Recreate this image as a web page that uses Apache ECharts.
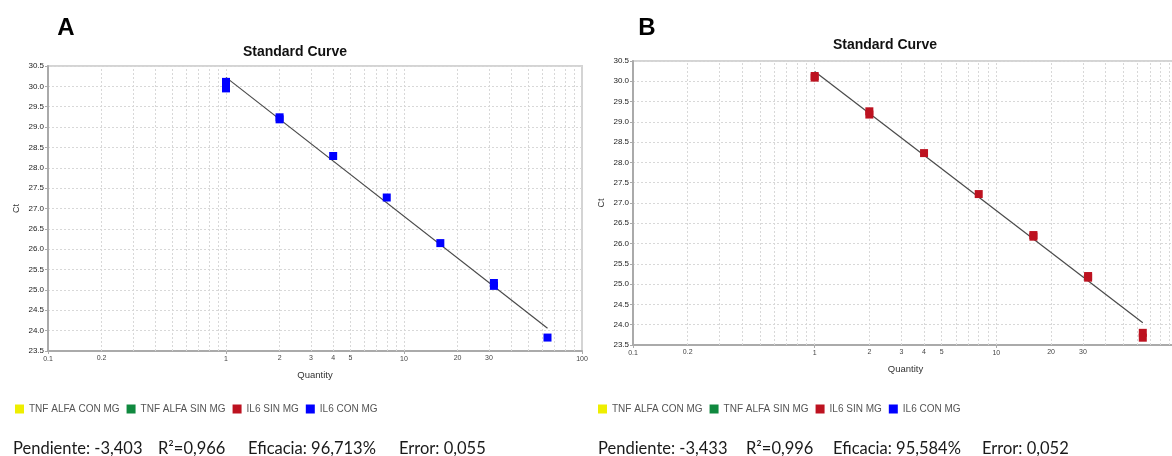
<!DOCTYPE html>
<html>
<head>
<meta charset="utf-8">
<script src="https://cdn.jsdelivr.net/npm/echarts@6/dist/echarts.min.js"></script>
<style>
html,body{margin:0;padding:0;background:#fff;}
#chart{width:1172px;height:456px;}
</style>
</head>
<body>
<div id="chart"></div>
<script>
// ---- data ----
const legendNames = ['TNF ALFA CON MG', 'TNF ALFA SIN MG', 'IL6 SIN MG', 'IL6 CON MG'];
// Panel A: IL6 CON MG
const qtyA = [1, 1, 2, 2, 4, 8, 16, 32, 32, 64];
const ctA  = [30.11, 29.95, 29.24, 29.19, 28.29, 27.27, 26.15, 25.17, 25.10, 23.83];
const fitQtyA = [1, 64];
const fitCtA  = [30.22, 24.06];
// Panel B: IL6 SIN MG
const qtyB = [1, 1, 2, 2, 4, 8, 16, 16, 32, 32, 64, 64];
const ctB  = [30.13, 30.09, 29.26, 29.18, 28.23, 27.22, 26.21, 26.17, 25.20, 25.16, 23.80, 23.68];
const fitQtyB = [1, 64];
const fitCtB  = [30.24, 24.05];
// axis ticks
const yTicksMin = 23.5, yTicksMax = 30.5, yTickStep = 0.5;
const xMin = 0.1, xMax = 100;
const gridQty = [0.2,0.3,0.4,0.5,0.6,0.7,0.8,0.9,1,2,3,4,5,6,7,8,9,10,20,30,40,50,60,70,80,90];
const xExtraLabels = [0.2, 2, 3, 4, 5, 20, 30];
const statsA = ['Pendiente: -3,403', 'R\u00B2=0,966', 'Eficacia: 96,713%', 'Error: 0,055'];
const statsB = ['Pendiente: -3,433', 'R\u00B2=0,996', 'Eficacia: 95,584%', 'Error: 0,052'];

// ---- styles / layout ----
const colors = {'TNF ALFA CON MG':'#eeee00','TNF ALFA SIN MG':'#10893f','IL6 SIN MG':'#bd1220','IL6 CON MG':'#0000ff'};
const F = 'Liberation Sans, Arial, sans-serif';

function pairs(xs, ys){ return xs.map((x,i)=>[x, ys[i]]); }

function xAxisCfg(gi){
  return {
    type:'log', logBase:10, min:xMin, max:xMax, gridIndex:gi,
    name:'Quantity', nameLocation:'middle', nameGap:19,
    nameTextStyle:{fontSize:9.5, color:'#333', fontFamily:F},
    axisLine:{lineStyle:{color:'#aaa', width:2}},
    axisTick:{show:true, length:3, lineStyle:{color:'#aaa'}},
    axisLabel:{fontSize:7, color:'#444', margin:5, fontFamily:F,
      formatter:v=>String(+(+v).toPrecision(6))},
    splitLine:{show:false}
  };
}
function yAxisCfg(gi){
  return {
    type:'value', min:yTicksMin, max:yTicksMax, interval:yTickStep, gridIndex:gi,
    name:'Ct', nameLocation:'middle', nameGap:27,
    nameTextStyle:{fontSize:9, color:'#333', fontFamily:F},
    axisLine:{show:true, lineStyle:{color:'#aaa', width:2}},
    axisTick:{show:true, length:3, lineStyle:{color:'#aaa'}},
    axisLabel:{fontSize:8, color:'#222', margin:4, fontFamily:F, formatter:v=>v.toFixed(1)},
    splitLine:{show:true, lineStyle:{color:'#d8d8d8', type:[2,2], width:1}}
  };
}
function gridLinesSeries(gi){
  return {
    type:'scatter', name:'_grid'+gi, xAxisIndex:gi, yAxisIndex:gi, data:[], silent:true, z:1,
    markLine:{
      silent:true, symbol:['none','none'], animation:false, z:1,
      lineStyle:{color:'#d8d8d8', type:[2,2], width:1},
      data: gridQty.map(q=>({
        xAxis:q,
        label:{show: xExtraLabels.includes(q), position:'start', distance:4,
               formatter:String(q), fontSize:7, color:'#444', fontFamily:F}
      }))
    }
  };
}
function panelSeries(gi, redData, blueData, fitData){
  const sc = (n, d) => ({type:'scatter', name:n, xAxisIndex:gi, yAxisIndex:gi, data:d, symbol:'rect', symbolSize:8, z:4,
    itemStyle:{color:colors[n], opacity:1}});
  return [
    gridLinesSeries(gi),
    {type:'line', name:'_fit'+gi, xAxisIndex:gi, yAxisIndex:gi, data:fitData, showSymbol:false,
     symbol:'none', lineStyle:{color:'#4a4a4a', width:1.2}, z:3, silent:true},
    sc(legendNames[0], []),
    sc(legendNames[1], []),
    sc(legendNames[2], redData),
    sc(legendNames[3], blueData)
  ];
}
function legendCfg(left, widths){
  return {
    left:left, top:404, padding:0, orient:'horizontal', itemWidth:9, itemHeight:9, itemGap:7, icon:'rect',
    selectedMode:false,
    textStyle:{fontSize:10, color:'#555', fontFamily:F},
    data: legendNames.map((n,i)=>({name:n, textStyle:{width:widths[i]}}))
  };
}
function statText(x, t){
  return {type:'text', x:x, y:449, silent:true,
    style:{text:t, font:'16.5px Lato, sans-serif', fill:'#1a1a1a', textAlign:'left', textVerticalAlign:'middle'}};
}

const option = {
  animation:false,
  backgroundColor:'#fff',
  grid:[
    {left:48, top:66, width:534, height:285, show:true, borderColor:'#d4d4d4', borderWidth:2, backgroundColor:'transparent', outerBoundsMode:'none', containLabel:false},
    {left:633, top:61, width:545, height:284, show:true, borderColor:'#d4d4d4', borderWidth:2, backgroundColor:'transparent', outerBoundsMode:'none', containLabel:false}
  ],
  xAxis:[xAxisCfg(0), xAxisCfg(1)],
  yAxis:[yAxisCfg(0), yAxisCfg(1)],
  legend:[legendCfg(15, [89, 84, 54, 57]), legendCfg(598, [97, 82, 53, 59])],
  series:[
    ...panelSeries(0, [], pairs(qtyA, ctA), pairs(fitQtyA, fitCtA)),
    ...panelSeries(1, pairs(qtyB, ctB), [], pairs(fitQtyB, fitCtB))
  ],
  graphic:[
    {type:'text', x:66, y:28, style:{text:'A', font:'bold 24px '+F, fill:'#000', textAlign:'center', textVerticalAlign:'middle'}},
    {type:'text', x:647, y:28, style:{text:'B', font:'bold 24px '+F, fill:'#000', textAlign:'center', textVerticalAlign:'middle'}},
    {type:'text', x:295, y:52, style:{text:'Standard Curve', font:'bold 14px '+F, fill:'#111', textAlign:'center', textVerticalAlign:'middle'}},
    {type:'text', x:885, y:45, style:{text:'Standard Curve', font:'bold 14px '+F, fill:'#111', textAlign:'center', textVerticalAlign:'middle'}},
    statText(13, statsA[0]), statText(158, statsA[1]), statText(248, statsA[2]), statText(399, statsA[3]),
    statText(598, statsB[0]), statText(746, statsB[1]), statText(833, statsB[2]), statText(982, statsB[3])
  ]
};
const chart = echarts.init(document.getElementById('chart'), null, {renderer:'canvas'});
chart.setOption(option);
</script>
</body>
</html>
